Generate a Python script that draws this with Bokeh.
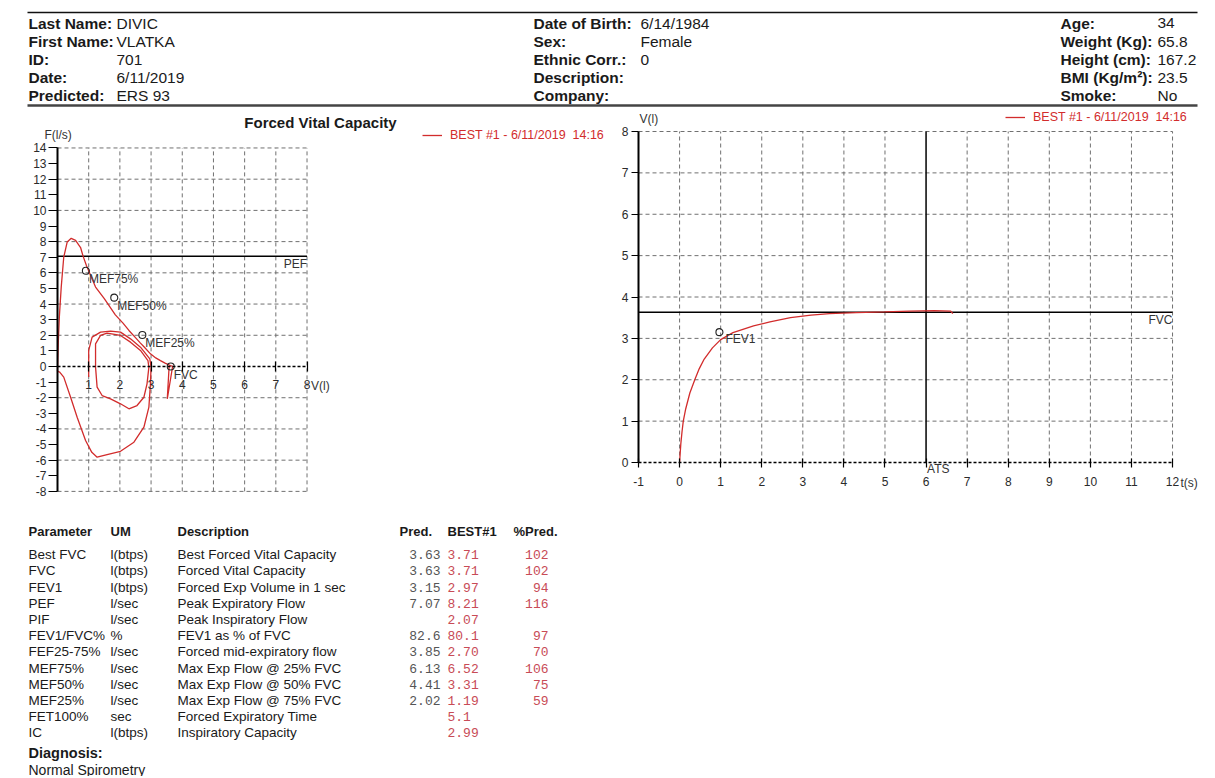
from bokeh.plotting import figure
from bokeh.models import Range1d, LinearAxis, FixedTicker, PrintfTickFormatter
from bokeh.layouts import column, row
from bokeh.embed import file_html
from bokeh.resources import INLINE
from bokeh.core.properties import value

# ---------------- data ----------------
hdr_left_keys = ["Last Name:", "First Name:", "ID:", "Date:", "Predicted:"]
hdr_left_vals = ["DIVIC", "VLATKA", "701", "6/11/2019", "ERS 93"]
hdr_mid_keys = ["Date of Birth:", "Sex:", "Ethnic Corr.:", "Description:", "Company:"]
hdr_mid_vals = ["6/14/1984", "Female", "0", "", ""]
hdr_right_keys = ["Age:", "Weight (Kg):", "Height (cm):", "BMI (Kg/m²):", "Smoke:"]
hdr_right_vals = ["34", "65.8", "167.2", "23.5", "No"]

legend_text = "BEST #1 - 6/11/2019  14:16"
fv_title = "Forced Vital Capacity"

# flow-volume loop (volume l, flow l/s)
fv_exp_vol = [0.00, 0.01, 0.03, 0.06, 0.12, 0.20, 0.31, 0.44, 0.58, 0.74, 0.82, 0.93, 1.05, 1.22,
              1.50, 1.855, 2.10, 2.29, 2.50, 2.66, 2.78, 2.98, 3.15, 3.30, 3.45, 3.62, 3.71]
fv_exp_flow = [-0.30, 0.50, 1.80, 3.20, 5.10, 7.00, 7.97, 8.21, 8.08, 7.62, 7.07, 6.45, 5.90, 5.09,
               4.35, 3.31, 2.78, 2.31, 1.85, 1.50, 1.25, 0.81, 0.55, 0.38, 0.22, 0.06, 0.00]
fv_tail_vol = [3.58, 3.52, 3.69]
fv_tail_flow = [0.05, -2.07, 0.00]
fv_insp_vol = [0.00, 0.07, 0.20, 0.42, 0.63, 0.90, 1.10, 1.27, 1.59, 2.02, 2.45, 2.77, 2.93, 2.98,
               3.00, 2.96, 2.66, 2.34, 2.02, 1.70, 1.38, 1.11, 1.00, 1.00, 1.00]
fv_insp_flow = [-0.30, -0.36, -0.68, -1.97, -3.25, -4.74, -5.50, -5.81, -5.64, -5.43, -4.85, -3.89,
                -2.60, -1.11, -0.04, 0.49, 1.24, 1.77, 2.20, 2.26, 2.20, 1.88, 1.03, -0.04, -0.68]
fv_tidal_vol = [1.38, 1.22, 1.22, 1.27, 1.43, 1.70, 2.02, 2.29, 2.55, 2.77, 2.87, 2.93, 2.90, 2.66,
                2.34, 2.02, 1.59, 1.38]
fv_tidal_flow = [1.99, 1.45, -0.04, -1.32, -1.86, -2.07, -2.39, -2.71, -2.50, -1.97, -1.11, -0.04,
                 0.38, 1.03, 1.56, 1.99, 2.14, 1.99]
fv_marker_names = ["MEF75%", "MEF50%", "MEF25%", "FVC"]
fv_marker_vol = [0.91, 1.82, 2.72, 3.63]
fv_marker_flow = [6.13, 4.41, 2.02, 0.00]
pef_pred = 7.07
fv_x_ticks = [1, 2, 3, 4, 5, 6, 7, 8]
fv_y_ticks = list(range(-8, 15))
fv_y_grid = [-8, -6, -4, -2, 2, 4, 6, 8, 10, 12, 14]

# volume-time curve (time s, volume l)
vt_time = [0.00, 0.03, 0.06, 0.09, 0.15, 0.25, 0.37, 0.48, 0.60, 0.80, 1.00, 1.30, 1.80, 2.20,
           2.70, 3.20, 3.65, 4.30, 5.00, 5.60, 6.20, 6.60, 6.65]
vt_vol = [0.00, 0.45, 0.75, 1.00, 1.30, 1.68, 2.00, 2.27, 2.50, 2.77, 2.97, 3.14, 3.30, 3.40,
          3.50, 3.56, 3.60, 3.62, 3.64, 3.66, 3.67, 3.66, 3.60]
vt_marker_names = ["FEV1"]
vt_marker_time = [0.97]
vt_marker_vol = [3.15]
fvc_pred = 3.63
ats_time = 6
vt_x_ticks = list(range(-1, 13))
vt_y_ticks = list(range(0, 9))

# results table
tbl_params = ["Best FVC", "FVC", "FEV1", "PEF", "PIF", "FEV1/FVC%", "FEF25-75%", "MEF75%",
              "MEF50%", "MEF25%", "FET100%", "IC"]
tbl_units = ["l(btps)", "l(btps)", "l(btps)", "l/sec", "l/sec", "%", "l/sec", "l/sec", "l/sec",
             "l/sec", "sec", "l(btps)"]
tbl_desc = ["Best Forced Vital Capacity", "Forced Vital Capacity", "Forced Exp Volume in 1 sec",
            "Peak Expiratory Flow", "Peak Inspiratory Flow", "FEV1 as % of FVC",
            "Forced mid-expiratory flow", "Max Exp Flow @ 25% FVC", "Max Exp Flow @ 50% FVC",
            "Max Exp Flow @ 75% FVC", "Forced Expiratory Time", "Inspiratory Capacity"]
tbl_pred = ["3.63", "3.63", "3.15", "7.07", "", "82.6", "3.85", "6.13", "4.41", "2.02", "", ""]
tbl_best = ["3.71", "3.71", "2.97", "8.21", "2.07", "80.1", "2.70", "6.52", "3.31", "1.19", "5.1", "2.99"]
tbl_pct = ["102", "102", "94", "116", "", "97", "70", "106", "75", "59", "", ""]
tbl_heads = ["Parameter", "UM", "Description", "Pred.", "BEST#1", "%Pred."]
diagnosis_title = "Diagnosis:"
diagnosis_text = "Normal Spirometry"

# ---------------- styling / geometry (screen px) ----------------
FONT = "Liberation Sans"
MONO = "Liberation Mono"
RED = "#d22c2c"
TRED = "#c84b56"
GRID = "#707070"
INK = "#1a1a1a"
LBL = "#333333"
PAGE_W = 1207
HDR_H = 108
CH_TOP, CH_BOT = HDR_H, 500
CH_H = CH_BOT - CH_TOP
TBL_H = 276
LEFT_W = 610
RIGHT_W = PAGE_W - LEFT_W

def common(fig):
    fig.grid.visible = False
    fig.outline_line_color = None
    fig.background_fill_color = "white"
    fig.border_fill_color = "white"

def style_axis(ax, tick_in, tick_out, standoff):
    ax.formatter = PrintfTickFormatter(format="%d")
    ax.major_label_text_font = FONT
    ax.major_label_text_font_size = "12px"
    ax.major_label_text_color = "#2a2a2a"
    ax.major_tick_in = tick_in
    ax.major_tick_out = tick_out
    ax.minor_tick_line_color = None
    ax.major_label_standoff = standoff
    ax.major_tick_line_color = "black"
    ax.major_tick_line_width = 1.2
    ax.axis_line_color = "black"

def style_legend(lg, loc):
    lg.location = loc
    lg.border_line_alpha = 0
    lg.background_fill_alpha = 0
    lg.padding = 0
    lg.margin = 0
    lg.glyph_width = 20
    lg.glyph_height = 12
    lg.label_height = 12
    lg.label_standoff = 8
    lg.label_text_font = FONT
    lg.label_text_font_size = "12.5px"
    lg.label_text_color = RED

def txt(fig, x, y, t, size="12px", align="left", color=LBL, bold=False, font=FONT, **kw):
    fig.text(x=x, y=y, text=t, text_font=value(font), text_font_size=size,
             text_font_style="bold" if bold else "normal", text_baseline="middle",
             text_align=align, text_color=color, **kw)

# ---------------- header ----------------
hdr = figure(width=PAGE_W, height=HDR_H, x_range=Range1d(0, PAGE_W), y_range=Range1d(0, HDR_H),
             toolbar_location=None, output_backend="svg", x_axis_location=None,
             y_axis_location=None, min_border=0)
common(hdr)
hy = lambda sy: HDR_H - sy
row_y = [hy(v) for v in [22.5, 41, 59, 77, 95]]
hdr.segment(x0=[27], x1=[1197], y0=[hy(12)], y1=[hy(12)], line_color="#111111", line_width=1.5)
hdr.segment(x0=[27], x1=[1197], y0=[hy(105)], y1=[hy(105)], line_color="#444444", line_width=2.5)
for keys, vals, kx, vx in [(hdr_left_keys, hdr_left_vals, 28, 116),
                           (hdr_mid_keys, hdr_mid_vals, 533, 640),
                           (hdr_right_keys, hdr_right_vals, 1060, 1157)]:
    txt(hdr, [kx] * 5, row_y, keys, size="15.5px", color=INK, bold=True)
    txt(hdr, [vx] * 5, row_y, vals, size="15.5px", color=INK)

# ---------------- flow-volume chart ----------------
LX0, LUX, LY0, LUY = 57, 31.19, 366, 15.61   # screen px of origin and px per unit
lf = figure(width=LEFT_W, height=CH_H,
            x_range=Range1d(-LX0 / LUX, (LEFT_W - LX0) / LUX),
            y_range=Range1d(-(CH_BOT - LY0) / LUY, (LY0 - CH_TOP) / LUY),
            toolbar_location=None, output_backend="svg", x_axis_location=None,
            y_axis_location=None, min_border=0)
common(lf)

ly = LinearAxis(bounds=(-8, 14), ticker=FixedTicker(ticks=fv_y_ticks), fixed_location=0)
style_axis(ly, 0, 9, 2)
ly.axis_line_width = 2
lf.add_layout(ly, "left")
lx = LinearAxis(bounds=(0, 8), ticker=FixedTicker(ticks=fv_x_ticks), fixed_location=0)
style_axis(lx, 5, 5, 8)
lx.axis_line_width = 1.5
lx.axis_line_dash = "3 2"
lf.add_layout(lx, "below")

lf.segment(x0=[0] * len(fv_y_grid), x1=[8] * len(fv_y_grid), y0=fv_y_grid, y1=fv_y_grid,
           line_color=GRID, line_width=1, line_dash="4 3")
lf.segment(x0=fv_x_ticks, x1=fv_x_ticks, y0=[-8] * 8, y1=[14] * 8,
           line_color=GRID, line_width=1, line_dash="4 3")
lf.segment(x0=[0], x1=[8], y0=[pef_pred], y1=[pef_pred], line_color="black", line_width=1.5)

lf.line(fv_exp_vol, fv_exp_flow, line_color=RED, line_width=1.3, legend_label=legend_text)
lf.line(fv_tail_vol, fv_tail_flow, line_color=RED, line_width=1.3)
lf.line(fv_insp_vol, fv_insp_flow, line_color=RED, line_width=1.3)
lf.line(fv_tidal_vol, fv_tidal_flow, line_color=RED, line_width=1.3)

lf.scatter(fv_marker_vol, fv_marker_flow, marker="circle", size=7, fill_color=None,
           line_color="#222222", line_width=1.1)
txt(lf, fv_marker_vol, fv_marker_flow, fv_marker_names, x_offset=3, y_offset=8)
txt(lf, [8], [pef_pred], ["PEF"], align="right", y_offset=7.5)
txt(lf, [8], [0], ["V(l)"], x_offset=4, y_offset=19)
txt(lf, [0], [14], ["F(l/s)"], x_offset=-13, y_offset=-13)
txt(lf, [(320 - LX0) / LUX], [(LY0 - 121.5) / LUY], [fv_title], size="15px", align="center",
    color=INK, bold=True)
style_legend(lf.legend[0], (422, CH_BOT - 142))

# ---------------- volume-time chart ----------------
RUX, RY0, RUY = 41.08, 462, 41.375
RFRAME = 638          # screen x of t = -1
rf = figure(width=RIGHT_W, height=CH_H,
            x_range=Range1d(-1 - (RFRAME - LEFT_W) / RUX, -1 + (PAGE_W - RFRAME) / RUX),
            y_range=Range1d(-(CH_BOT - RY0) / RUY, (RY0 - CH_TOP) / RUY),
            toolbar_location=None, output_backend="svg", x_axis_location=None,
            y_axis_location=None, min_border=0)
common(rf)
ry = LinearAxis(bounds=(0, 8), ticker=FixedTicker(ticks=vt_y_ticks), fixed_location=-1)
style_axis(ry, 0, 7, 3)
ry.axis_line_width = 2
rf.add_layout(ry, "left")
rx = LinearAxis(bounds=(-1, 12), ticker=FixedTicker(ticks=vt_x_ticks), fixed_location=0)
style_axis(rx, 4, 5, 9)
rx.axis_line_width = 1.5
rx.axis_line_dash = "3 2"
rf.add_layout(rx, "below")

hgrid = vt_y_ticks[1:]
rf.segment(x0=[-1] * len(hgrid), x1=[12] * len(hgrid), y0=hgrid, y1=hgrid,
           line_color=GRID, line_width=1, line_dash="4 3")
vgrid = [t for t in vt_x_ticks[1:] if t != ats_time]
rf.segment(x0=vgrid, x1=vgrid, y0=[0] * len(vgrid), y1=[8] * len(vgrid),
           line_color=GRID, line_width=1, line_dash="4 3")
rf.segment(x0=[-1], x1=[12], y0=[fvc_pred], y1=[fvc_pred], line_color="black", line_width=1.5)
rf.segment(x0=[ats_time], x1=[ats_time], y0=[0], y1=[8], line_color="black", line_width=1.5)

rf.line(vt_time, vt_vol, line_color=RED, line_width=1.3, legend_label=legend_text)
rf.scatter(vt_marker_time, vt_marker_vol, marker="circle", size=7, fill_color=None,
           line_color="#222222", line_width=1.1)
txt(rf, vt_marker_time, vt_marker_vol, vt_marker_names, x_offset=6, y_offset=7)
txt(rf, [12], [fvc_pred], ["FVC"], align="right", y_offset=7.5)
txt(rf, [ats_time], [0], ["ATS"], x_offset=1, y_offset=6)
txt(rf, [12], [0], ["t(s)"], x_offset=8, y_offset=20)
txt(rf, [-1], [8], ["V(l)"], x_offset=1, y_offset=-13)
style_legend(rf.legend[0], (1005 - LEFT_W, CH_BOT - 124))

# ---------------- table ----------------
TY0 = CH_BOT
tbl = figure(width=PAGE_W, height=TBL_H, x_range=Range1d(0, PAGE_W), y_range=Range1d(0, TBL_H),
             toolbar_location=None, output_backend="svg", x_axis_location=None,
             y_axis_location=None, min_border=0)
common(tbl)
ty = lambda sy: TBL_H - (sy - TY0)
head_x = [28, 110, 177, 399, 447, 513]
txt(tbl, head_x, [ty(530.5)] * 6, tbl_heads, size="13px", color=INK, bold=True)
ys = [ty(554.3 + i * 16.18) for i in range(len(tbl_params))]
for col, cx in [(tbl_params, 28), (tbl_units, 110), (tbl_desc, 177)]:
    txt(tbl, [cx] * len(col), ys, col, size="13.5px", color=INK)
txt(tbl, [440] * len(ys), ys, tbl_pred, size="13px", align="right", color="#555555", font=MONO)
txt(tbl, [447] * len(ys), ys, tbl_best, size="13px", color=TRED, font=MONO)
txt(tbl, [548] * len(ys), ys, tbl_pct, size="13px", align="right", color=TRED, font=MONO)
txt(tbl, [28], [ty(752.5)], [diagnosis_title], size="14.5px", color=INK, bold=True)
txt(tbl, [28], [ty(769)], [diagnosis_text], size="14px", color=INK)

page = column(hdr, row(lf, rf), tbl)
open("out.html", "w").write(file_html(page, INLINE))
